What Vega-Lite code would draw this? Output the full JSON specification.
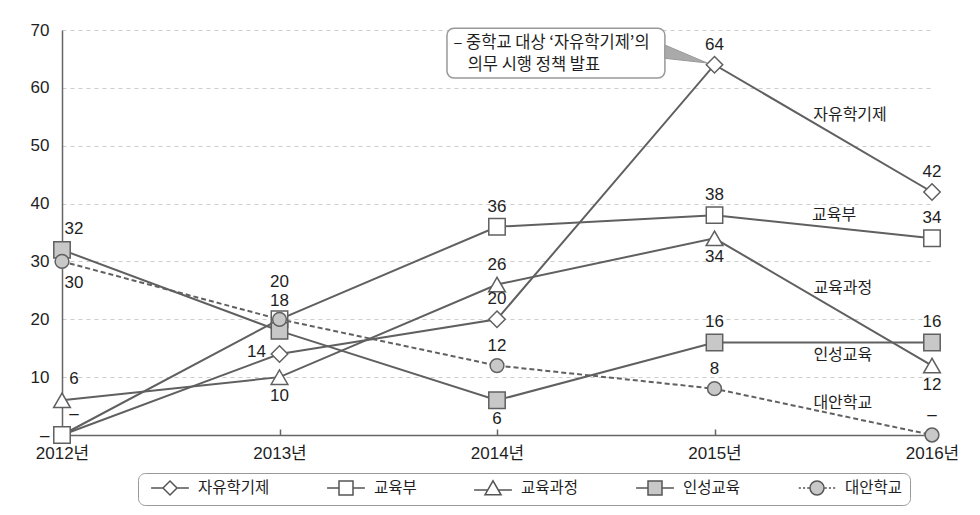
{
  "$schema": "https://vega.github.io/schema/vega-lite/v6.json",
  "autosize": {"type": "none"},
  "padding": {"left": 62, "top": 30, "right": 48, "bottom": 80},
  "width": 870,
  "height": 405,
  "background": "white",
  "config": {
    "view": {"stroke": null},
    "font": "Liberation Sans, Noto Sans CJK KR",
    "text": {"font": "Liberation Sans, Noto Sans CJK KR", "fontSize": 17, "color": "#1e1e1e"}
  },
  "datasets": {
    "main": [
      {"series": "자유학기제", "year": 2012, "value": 0},
      {"series": "자유학기제", "year": 2013, "value": 14},
      {"series": "자유학기제", "year": 2014, "value": 20},
      {"series": "자유학기제", "year": 2015, "value": 64},
      {"series": "자유학기제", "year": 2016, "value": 42},
      {"series": "교육부", "year": 2012, "value": 0},
      {"series": "교육부", "year": 2013, "value": 20},
      {"series": "교육부", "year": 2014, "value": 36},
      {"series": "교육부", "year": 2015, "value": 38},
      {"series": "교육부", "year": 2016, "value": 34},
      {"series": "교육과정", "year": 2012, "value": 6},
      {"series": "교육과정", "year": 2013, "value": 10},
      {"series": "교육과정", "year": 2014, "value": 26},
      {"series": "교육과정", "year": 2015, "value": 34},
      {"series": "교육과정", "year": 2016, "value": 12},
      {"series": "인성교육", "year": 2012, "value": 32},
      {"series": "인성교육", "year": 2013, "value": 18},
      {"series": "인성교육", "year": 2014, "value": 6},
      {"series": "인성교육", "year": 2015, "value": 16},
      {"series": "인성교육", "year": 2016, "value": 16},
      {"series": "대안학교", "year": 2012, "value": 30},
      {"series": "대안학교", "year": 2013, "value": 20},
      {"series": "대안학교", "year": 2014, "value": 12},
      {"series": "대안학교", "year": 2015, "value": 8},
      {"series": "대안학교", "year": 2016, "value": 0}
    ],
    "seriesNames": [
      {"name": "자유학기제", "year": 2015.623, "value": 55.3},
      {"name": "교육부", "year": 2015.55, "value": 38.0},
      {"name": "교육과정", "year": 2015.59, "value": 25.4},
      {"name": "인성교육", "year": 2015.59, "value": 13.8},
      {"name": "대안학교", "year": 2015.59, "value": 5.5}
    ],
    "calloutBox": [
      {"year": 2013.77, "year2": 2014.772, "value": 70.3, "value2": 61.7}
    ],
    "calloutText": [
      {"line": "– 중학교 대상 ‘자유학기제’의", "year": 2013.80, "value": 67.7},
      {"line": "의무 시행 정책 발표", "year": 2013.865, "value": 63.9}
    ],
    "pointer": [
      {"year": 2014.772, "value": 67.4, "value2": 65.1},
      {"year": 2014.966, "value": 64.3, "value2": 64.3}
    ]
  },
  "layer": [
    {
      "data": {"name": "calloutBox"},
      "mark": {"type": "rect", "fill": "white", "stroke": "#999999", "strokeWidth": 1.5, "cornerRadius": 7},
      "encoding": {
        "x": {"field": "year", "type": "quantitative", "title": null,
              "scale": {"domain": [2012, 2016], "nice": false, "zero": false},
              "axis": {"values": [2012, 2013, 2014, 2015, 2016], "labelExpr": "datum.value + '년'",
                       "labelFlush": false, "labelOverlap": false, "labelFontSize": 17, "labelColor": "#1e1e1e",
                       "labelFont": "Liberation Sans, Noto Sans CJK KR",
                       "domainColor": "#666666", "domainWidth": 1.5, "tickColor": "#666666", "tickSize": -6,
                       "tickWidth": 1.5, "labelPadding": 16, "grid": false, "title": null}},
        "x2": {"field": "year2"},
        "y": {"field": "value", "type": "quantitative", "title": null,
              "scale": {"domain": [0, 70], "nice": false},
              "axis": {"values": [0, 10, 20, 30, 40, 50, 60, 70], "labelExpr": "datum.value === 0 ? '–' : datum.label",
                       "ticks": false, "labelPadding": 13, "labelFontSize": 17, "labelColor": "#1e1e1e",
                       "labelFont": "Liberation Sans, Noto Sans CJK KR",
                       "domainColor": "#666666", "domainWidth": 1.5, "grid": true, "gridColor": "#cccccc",
                       "gridDash": [4, 4], "gridWidth": 1, "title": null}},
        "y2": {"field": "value2"}
      }
    },
    {
      "data": {"name": "pointer"},
      "mark": {"type": "area", "fill": "#aaaaaa", "stroke": "#999999", "strokeWidth": 1, "orient": "vertical"},
      "encoding": {
        "x": {"field": "year", "type": "quantitative", "title": null},
        "y": {"field": "value", "type": "quantitative", "title": null},
        "y2": {"field": "value2"}
      }
    },
    {
      "data": {"name": "calloutText"},
      "mark": {"type": "text", "align": "left", "baseline": "middle", "fontSize": 16.5, "font": "Noto Sans CJK KR"},
      "encoding": {
        "x": {"field": "year", "type": "quantitative", "title": null},
        "y": {"field": "value", "type": "quantitative", "title": null},
        "text": {"field": "line"}
      }
    },
    {
      "data": {"name": "main"},
      "transform": [{"filter": "datum.series !== '대안학교'"}],
      "mark": {"type": "line", "color": "#606060", "strokeWidth": 2},
      "encoding": {
        "x": {"field": "year", "type": "quantitative", "title": null},
        "y": {"field": "value", "type": "quantitative", "title": null},
        "detail": {"field": "series"}
      }
    },
    {
      "data": {"name": "main"},
      "transform": [{"filter": "datum.series === '대안학교'"}],
      "mark": {"type": "line", "color": "#606060", "strokeWidth": 2, "strokeDash": [5, 3]},
      "encoding": {
        "x": {"field": "year", "type": "quantitative", "title": null},
        "y": {"field": "value", "type": "quantitative", "title": null}
      }
    },
    {
      "data": {"name": "main"},
      "mark": {"type": "point", "filled": true, "size": 196, "fillOpacity": 0, "strokeOpacity": 0, "stroke": "#555555", "strokeWidth": 1.5},
      "encoding": {
        "x": {"field": "year", "type": "quantitative", "title": null},
        "y": {"field": "value", "type": "quantitative", "title": null},
        "shape": {"field": "series", "type": "nominal", "title": null,
                  "scale": {"domain": ["자유학기제", "교육부", "교육과정", "인성교육", "대안학교"],
                            "range": [
                              "M-2.7,0H-1M1,0H2.7M-1,0L0,-1L1,0L0,1Z",
                              "M-2.7,0H-1M1,0H2.7M-1,-1H1V1H-1Z",
                              "M-2.7,0.25H-0.75M0.75,0.25H2.7M-1.15,0.95L0,-1.05L1.15,0.95Z",
                              "M-2.7,0H-1M1,0H2.7M-1,-1H1V1H-1Z",
                              "M-2.6,0H-2.3M-2.0,0H-1.7M-1.4,0H-1.1M1.1,0H1.4M1.7,0H2.0M2.3,0H2.6M-1,0A1,1 0 1,0 1,0A1,1 0 1,0 -1,0Z"
                            ]},
                  "legend": {"orient": "none", "legendX": 76, "legendY": 443, "direction": "horizontal",
                             "columns": 5, "columnPadding": 51, "padding": 7, "cornerRadius": 7,
                             "strokeColor": "#999999", "fillColor": "white",
                             "labelFontSize": 15.5, "labelColor": "#1e1e1e", "labelFont": "Noto Sans CJK KR",
                             "symbolSize": 196, "labelOffset": 20, "symbolOffset": 17,
                             "labelExpr": "datum.label === '대안학교' ? datum.label + '\u00a0\u00a0\u00a0\u00a0\u00a0\u00a0' : datum.label",
                             "encode": {"symbols": {"opacity": {"value": 1}, "fillOpacity": {"value": 1}, "strokeOpacity": {"value": 1}, "stroke": {"value": "#555555"}, "strokeWidth": {"value": 1.5}}}}},
        "fill": {"field": "series", "type": "nominal", "title": null,
                 "scale": {"domain": ["자유학기제", "교육부", "교육과정", "인성교육", "대안학교"],
                           "range": ["white", "white", "white", "#c8c8c8", "#c8c8c8"]}}
      }
    },
    {
      "data": {"name": "main"},
      "transform": [{"filter": "datum.series === '자유학기제'"}],
      "mark": {"type": "point", "shape": "diamond", "size": 270, "filled": true, "fill": "white", "stroke": "#606060", "strokeWidth": 1.5, "opacity": 1},
      "encoding": {
        "x": {"field": "year", "type": "quantitative", "title": null},
        "y": {"field": "value", "type": "quantitative", "title": null}
      }
    },
    {
      "data": {"name": "main"},
      "transform": [{"filter": "datum.series === '교육과정'"}],
      "mark": {"type": "point", "shape": "triangle-up", "size": 280, "filled": true, "fill": "white", "stroke": "#606060", "strokeWidth": 1.5, "opacity": 1},
      "encoding": {
        "x": {"field": "year", "type": "quantitative", "title": null},
        "y": {"field": "value", "type": "quantitative", "title": null}
      }
    },
    {
      "data": {"name": "main"},
      "transform": [{"filter": "datum.series === '교육부'"}],
      "mark": {"type": "point", "shape": "square", "size": 270, "filled": true, "fill": "white", "stroke": "#606060", "strokeWidth": 1.5, "opacity": 1},
      "encoding": {
        "x": {"field": "year", "type": "quantitative", "title": null},
        "y": {"field": "value", "type": "quantitative", "title": null}
      }
    },
    {
      "data": {"name": "main"},
      "transform": [{"filter": "datum.series === '인성교육'"}],
      "mark": {"type": "point", "shape": "square", "size": 270, "filled": true, "fill": "#c8c8c8", "stroke": "#606060", "strokeWidth": 1.5, "opacity": 1},
      "encoding": {
        "x": {"field": "year", "type": "quantitative", "title": null},
        "y": {"field": "value", "type": "quantitative", "title": null}
      }
    },
    {
      "data": {"name": "main"},
      "transform": [{"filter": "datum.series === '대안학교'"}],
      "mark": {"type": "point", "shape": "circle", "size": 190, "filled": true, "fill": "#c8c8c8", "stroke": "#606060", "strokeWidth": 1.5, "opacity": 1},
      "encoding": {
        "x": {"field": "year", "type": "quantitative", "title": null},
        "y": {"field": "value", "type": "quantitative", "title": null}
      }
    },
    {
      "data": {"name": "main"},
      "transform": [{"filter": "indexof(['교육부2012','대안학교2013','교육과정2013','교육과정2015','교육과정2016','인성교육2014','인성교육2012','교육과정2012','자유학기제2012','대안학교2012','자유학기제2013','교육부2013','인성교육2013'], datum.series + datum.year) < 0"}],
      "mark": {"type": "text", "dy": -20, "baseline": "middle"},
      "encoding": {
        "x": {"field": "year", "type": "quantitative", "title": null},
        "y": {"field": "value", "type": "quantitative", "title": null},
        "text": {"condition": {"test": "datum.value === 0", "value": "–"}, "field": "value", "type": "quantitative"}
      }
    },
    {
      "data": {"name": "main"},
      "transform": [{"filter": "indexof(['교육과정2013','교육과정2015','교육과정2016','인성교육2014'], datum.series + datum.year) >= 0"}],
      "mark": {"type": "text", "dy": 19, "baseline": "middle"},
      "encoding": {
        "x": {"field": "year", "type": "quantitative", "title": null},
        "y": {"field": "value", "type": "quantitative", "title": null},
        "text": {"field": "value", "type": "quantitative"}
      }
    },
    {
      "data": {"name": "main"},
      "transform": [{"filter": "indexof(['인성교육2012','교육과정2012','자유학기제2012'], datum.series + datum.year) >= 0"}],
      "mark": {"type": "text", "dx": 12, "dy": -21, "baseline": "middle"},
      "encoding": {
        "x": {"field": "year", "type": "quantitative", "title": null},
        "y": {"field": "value", "type": "quantitative", "title": null},
        "text": {"condition": {"test": "datum.value === 0", "value": "–"}, "field": "value", "type": "quantitative"}
      }
    },
    {
      "data": {"name": "main"},
      "transform": [{"filter": "datum.series === '대안학교' && datum.year === 2012"}],
      "mark": {"type": "text", "dx": 12, "dy": 22, "baseline": "middle"},
      "encoding": {
        "x": {"field": "year", "type": "quantitative", "title": null},
        "y": {"field": "value", "type": "quantitative", "title": null},
        "text": {"field": "value", "type": "quantitative"}
      }
    },
    {
      "data": {"name": "main"},
      "transform": [{"filter": "datum.series === '자유학기제' && datum.year === 2013"}],
      "mark": {"type": "text", "dx": -23, "dy": -2, "baseline": "middle"},
      "encoding": {
        "x": {"field": "year", "type": "quantitative", "title": null},
        "y": {"field": "value", "type": "quantitative", "title": null},
        "text": {"field": "value", "type": "quantitative"}
      }
    },
    {
      "data": {"name": "main"},
      "transform": [{"filter": "datum.series === '교육부' && datum.year === 2013"}],
      "mark": {"type": "text", "dy": -37, "baseline": "middle"},
      "encoding": {
        "x": {"field": "year", "type": "quantitative", "title": null},
        "y": {"field": "value", "type": "quantitative", "title": null},
        "text": {"field": "value", "type": "quantitative"}
      }
    },
    {
      "data": {"name": "main"},
      "transform": [{"filter": "datum.series === '인성교육' && datum.year === 2013"}],
      "mark": {"type": "text", "dy": -30, "baseline": "middle"},
      "encoding": {
        "x": {"field": "year", "type": "quantitative", "title": null},
        "y": {"field": "value", "type": "quantitative", "title": null},
        "text": {"field": "value", "type": "quantitative"}
      }
    },
    {
      "data": {"name": "seriesNames"},
      "mark": {"type": "text", "baseline": "middle", "fontSize": 16, "font": "Noto Sans CJK KR"},
      "encoding": {
        "x": {"field": "year", "type": "quantitative", "title": null},
        "y": {"field": "value", "type": "quantitative", "title": null},
        "text": {"field": "name"}
      }
    }
  ]
}
